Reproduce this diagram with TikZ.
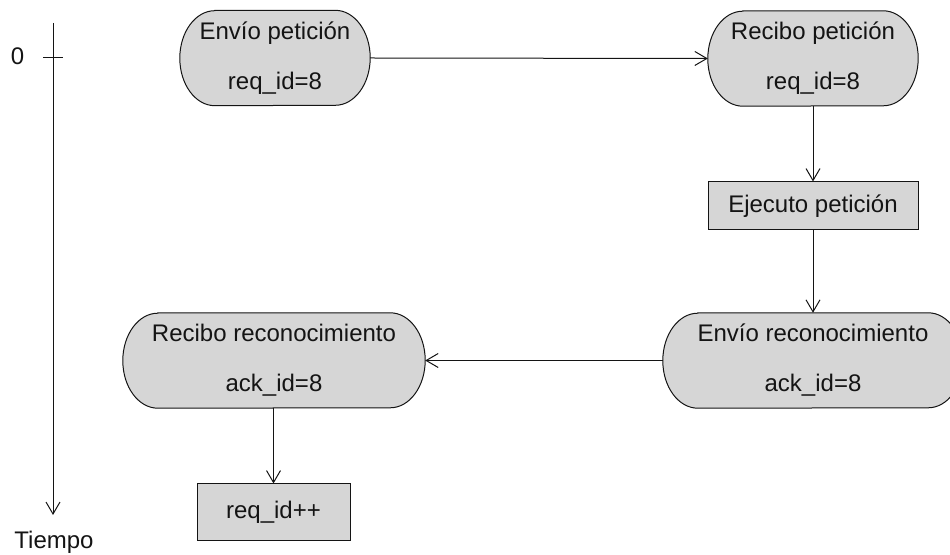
\documentclass[tikz,border=0pt]{standalone}
\usepackage{fontspec}
\setmainfont{Liberation Sans}
\usetikzlibrary{arrows.meta,calc,backgrounds}

\definecolor{boxfill}{RGB}{214,214,214}
\definecolor{inkline}{RGB}{20,20,20}

\tikzset{
  x=1pt, y=1pt,
  every node/.style={font=\fontsize{24}{50}\selectfont, text=inkline, inner sep=0pt},
  capsule/.style={minimum height=95pt, align=center},
  capsule line/.style={draw=inkline, line width=1pt, fill=boxfill},
  action/.style={draw=inkline, line width=1pt, fill=boxfill, minimum height=48pt, align=center},
  flow/.style={draw=inkline, line width=1pt, -{Straight Barb[length=12pt,width=14pt]}},
  axis/.style={draw=inkline, line width=1pt},
}

% Rounded-end outline behind a capsule node (elliptical ends)
\newcommand\capsuleoutline[1]{%
  \begin{pgfonlayer}{background}
    \path[capsule line]
      ($(#1.north west)+(35,0)$) -- ($(#1.north east)+(-35,0)$)
      arc[start angle=90, end angle=-90, x radius=35, y radius=47.5]
      -- ($(#1.south west)+(35,0)$)
      arc[start angle=270, end angle=90, x radius=35, y radius=47.5]
      -- cycle;
  \end{pgfonlayer}%
}

\begin{document}
\begin{tikzpicture}
  \useasboundingbox (0,0) rectangle (950,554);

  % time axis
  \coordinate (ttop) at (53,531);
  \coordinate (tend) at (53,39);
  \coordinate (tickL) at (43,496.5);
  \coordinate (tickR) at (63,496.5);
  \draw[flow] (ttop) -- (tend);
  \draw[axis] (tickL) -- (tickR);
  \node (zero) at (17.5,497.5) {0};
  \node (tiempo) at (54,12) {Tiempo};

  % states and actions
  \node[capsule, minimum width=190pt] (envio) at (275,496) {Envío petición\\req\_id=8};
  \capsuleoutline{envio}
  \node[capsule, minimum width=210pt] (recibo) at (813,495.5) {Recibo petición\\req\_id=8};
  \capsuleoutline{recibo}
  \node[action, minimum width=210pt] (ejecuto) at (813,348) {Ejecuto petición};
  \node[capsule, minimum width=300pt] (envack) at (813,193.5) {Envío reconocimiento\\ack\_id=8};
  \capsuleoutline{envack}
  \node[capsule, minimum width=302pt] (recack) at (274,193.5) {Recibo reconocimiento\\ack\_id=8};
  \capsuleoutline{recack}
  \node[action, minimum width=153pt, minimum height=56pt] (incr) at (273.5,42) {req\_id++};

  % connectors
  \draw[flow] (envio.east) -- (recibo.west);
  \draw[flow] (recibo.south) -- (ejecuto.north);
  \draw[flow] (ejecuto.south) -- (envack.north);
  \draw[flow] (envack.west) -- (recack.east);
  \draw[flow] (recack.south -| incr.north) -- (incr.north);
\end{tikzpicture}
\end{document}
